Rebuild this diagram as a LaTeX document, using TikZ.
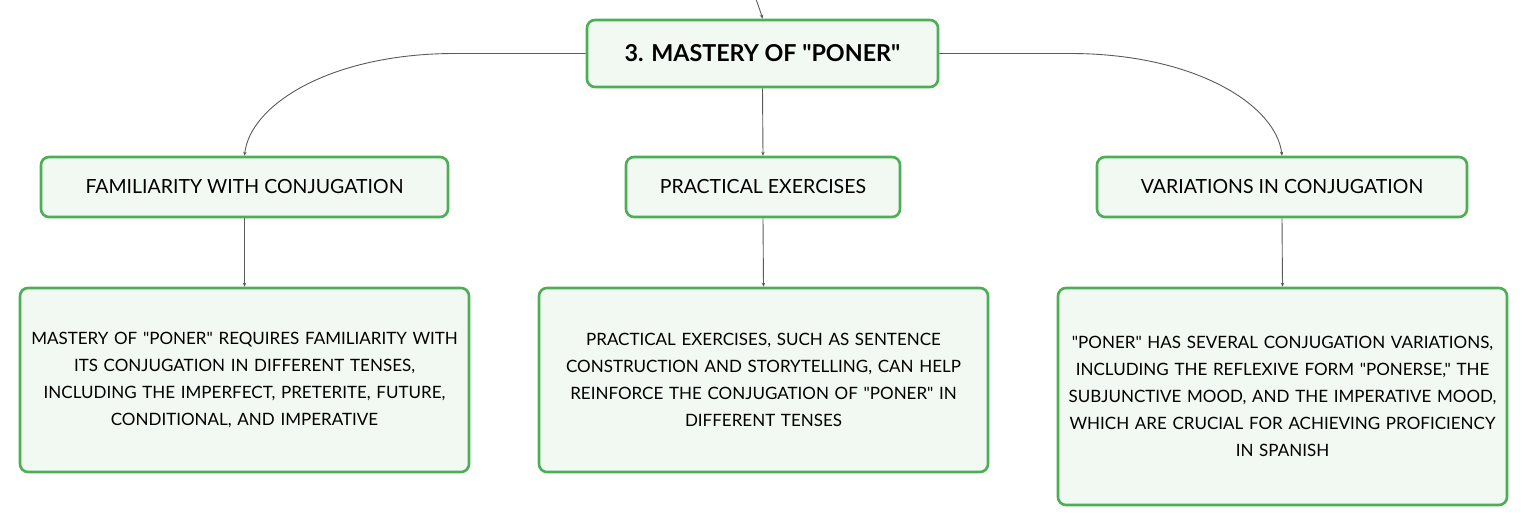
\documentclass[tikz,border=0pt]{standalone}
\usepackage{fontspec}
\newfontfamily\lato{Lato}
\usetikzlibrary{arrows.meta}
\definecolor{boxgreen}{HTML}{4DAF55}
\definecolor{boxfill}{HTML}{F2F8F2}
\definecolor{linegray}{HTML}{5A5A5A}
\tikzset{
  box/.style={draw=boxgreen, line width=2.6pt, fill=boxfill, rounded corners=8pt, align=center, inner sep=0pt},
  topbox/.style={box, minimum width=351pt, minimum height=67pt, font=\lato\fontsize{23.3}{27}\selectfont\bfseries},
  midbox/.style={box, minimum height=60pt, font=\lato\fontsize{19.5}{23}\selectfont},
  leafbox/.style={box, minimum width=449pt, text width=440pt, font=\lato\fontsize{17}{27}\selectfont},
  conn/.style={draw=linegray, line width=0.9pt, -{Stealth[length=4pt,width=3.5pt]}}
}
\begin{document}
\begin{tikzpicture}[x=1pt,y=-1pt]
\useasboundingbox (0,0) rectangle (1527,526);
\node[topbox] (top) at (762.5,53.5) {3. MASTERY OF "PONER"};
\node[midbox, minimum width=407pt] (fam) at (244.5,187) {FAMILIARITY WITH CONJUGATION};
\node[midbox, minimum width=274pt] (prac) at (763,187) {PRACTICAL EXERCISES};
\node[midbox, minimum width=370pt] (var) at (1282,187) {VARIATIONS IN CONJUGATION};
\node[leafbox, minimum height=184pt] (famt) at (244.5,380) {MASTERY OF "PONER" REQUIRES FAMILIARITY WITH\\ITS CONJUGATION IN DIFFERENT TENSES,\\INCLUDING THE IMPERFECT, PRETERITE, FUTURE,\\CONDITIONAL, AND IMPERATIVE};
\node[leafbox, minimum height=184pt] (pract) at (763.5,380) {PRACTICAL EXERCISES, SUCH AS SENTENCE\\CONSTRUCTION AND STORYTELLING, CAN HELP\\REINFORCE THE CONJUGATION OF "PONER" IN\\DIFFERENT TENSES};
\node[leafbox, minimum height=217pt] (vart) at (1282.5,396.5) {"PONER" HAS SEVERAL CONJUGATION VARIATIONS,\\INCLUDING THE REFLEXIVE FORM "PONERSE," THE\\SUBJUNCTIVE MOOD, AND THE IMPERATIVE MOOD,\\WHICH ARE CRUCIAL FOR ACHIEVING PROFICIENCY\\IN SPANISH};
\coordinate (in) at (756,-1);
\draw[conn] (in) .. controls (759,8) and (761,13) .. (top.north);
\draw[conn] (top.west) -- (455,53.5) .. controls (330,53.5) and (250,105) .. (fam.north);
\draw[conn] (top.east) -- (1070,53.5) .. controls (1195,53.5) and (1276,105) .. (var.north);
\draw[conn] (top.south) -- (prac.north);
\draw[conn] (fam.south) -- (famt.north);
\draw[conn] (prac.south) -- (pract.north);
\draw[conn] (var.south) -- (vart.north);
\end{tikzpicture}
\end{document}
